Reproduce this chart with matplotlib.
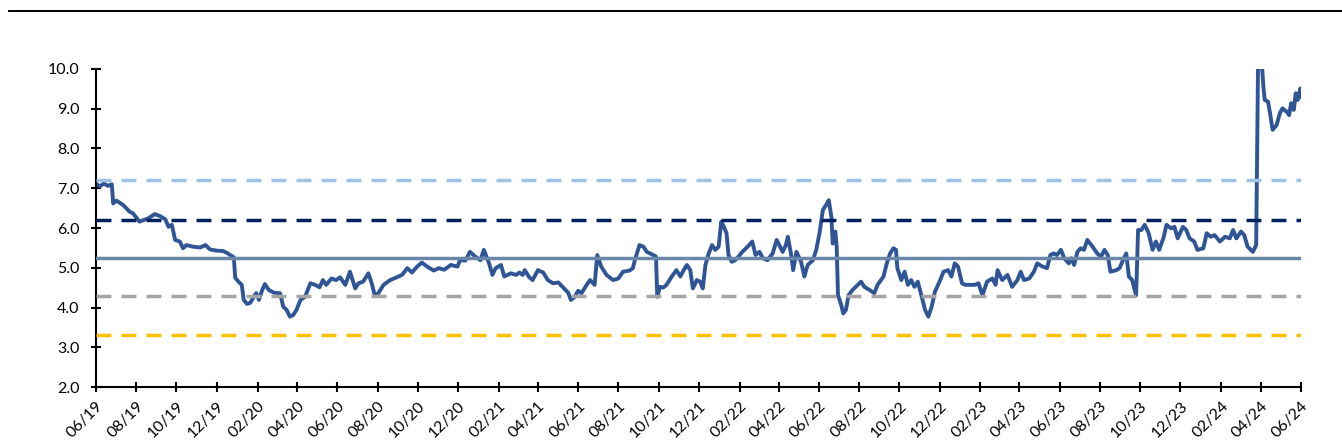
import pandas as pd
import matplotlib
matplotlib.use("Agg")
import matplotlib.pyplot as plt
import matplotlib.dates as mdates

plt.rcParams['font.family'] = ['Lato', 'DejaVu Sans']

# series (date, value)
dates = [
    "2019-06-02", "2019-06-07", "2019-06-13", "2019-06-19", "2019-06-25", "2019-06-27",
    "2019-07-02", "2019-07-12", "2019-07-22", "2019-07-27", "2019-08-06", "2019-08-12",
    "2019-08-19", "2019-08-29", "2019-09-06", "2019-09-14", "2019-09-19", "2019-09-24",
    "2019-09-29", "2019-10-06", "2019-10-11", "2019-10-16", "2019-10-26", "2019-11-06",
    "2019-11-14", "2019-11-21", "2019-12-01", "2019-12-11", "2019-12-18", "2019-12-27",
    "2019-12-29", "2020-01-03", "2020-01-08", "2020-01-11", "2020-01-16", "2020-01-21",
    "2020-01-27", "2020-01-30", "2020-02-03", "2020-02-08", "2020-02-12", "2020-02-18",
    "2020-02-26", "2020-03-06", "2020-03-11", "2020-03-16", "2020-03-21", "2020-03-26",
    "2020-03-31", "2020-04-06", "2020-04-13", "2020-04-21", "2020-04-28", "2020-05-05",
    "2020-05-10", "2020-05-15", "2020-05-23", "2020-05-30", "2020-06-05", "2020-06-13",
    "2020-06-20", "2020-06-28", "2020-07-03", "2020-07-10", "2020-07-18", "2020-07-23",
    "2020-07-28", "2020-08-02", "2020-08-10", "2020-08-20", "2020-08-30", "2020-09-07",
    "2020-09-15", "2020-09-22", "2020-09-30", "2020-10-07", "2020-10-15", "2020-10-25",
    "2020-11-02", "2020-11-10", "2020-11-20", "2020-11-30", "2020-12-04", "2020-12-12",
    "2020-12-19", "2020-12-27", "2021-01-04", "2021-01-09", "2021-01-17", "2021-01-22",
    "2021-01-27", "2021-02-04", "2021-02-09", "2021-02-19", "2021-02-27", "2021-03-04",
    "2021-03-09", "2021-03-12", "2021-03-19", "2021-03-24", "2021-04-01", "2021-04-09",
    "2021-04-16", "2021-04-24", "2021-05-02", "2021-05-09", "2021-05-17", "2021-05-21",
    "2021-05-27", "2021-06-01", "2021-06-06", "2021-06-14", "2021-06-19", "2021-06-26",
    "2021-06-30", "2021-07-06", "2021-07-14", "2021-07-24", "2021-08-01", "2021-08-08",
    "2021-08-18", "2021-08-23", "2021-08-26", "2021-09-02", "2021-09-08", "2021-09-13",
    "2021-09-18", "2021-09-23", "2021-09-27", "2021-09-29", "2021-10-03", "2021-10-08",
    "2021-10-13", "2021-10-21", "2021-10-28", "2021-11-03", "2021-11-08", "2021-11-13",
    "2021-11-18", "2021-11-22", "2021-11-28", "2021-12-03", "2021-12-07", "2021-12-11",
    "2021-12-16", "2021-12-21", "2021-12-26", "2021-12-31", "2022-01-04", "2022-01-08",
    "2022-01-12", "2022-01-15", "2022-01-20", "2022-01-25", "2022-01-30", "2022-02-05",
    "2022-02-13", "2022-02-20", "2022-02-25", "2022-03-03", "2022-03-08", "2022-03-15",
    "2022-03-23", "2022-03-29", "2022-04-02", "2022-04-07", "2022-04-12", "2022-04-15",
    "2022-04-20", "2022-04-23", "2022-04-28", "2022-05-05", "2022-05-10", "2022-05-15",
    "2022-05-23", "2022-05-28", "2022-06-02", "2022-06-07", "2022-06-12", "2022-06-16",
    "2022-06-20", "2022-06-22", "2022-06-26", "2022-06-28", "2022-06-30", "2022-07-05",
    "2022-07-08", "2022-07-12", "2022-07-16", "2022-07-22", "2022-07-30", "2022-08-04",
    "2022-08-09", "2022-08-17", "2022-08-24", "2022-08-29", "2022-09-07", "2022-09-12",
    "2022-09-17", "2022-09-22", "2022-09-26", "2022-09-28", "2022-10-04", "2022-10-09",
    "2022-10-14", "2022-10-19", "2022-10-24", "2022-10-29", "2022-11-04", "2022-11-09",
    "2022-11-14", "2022-11-19", "2022-11-24", "2022-12-02", "2022-12-07", "2022-12-14",
    "2022-12-19", "2022-12-24", "2022-12-29", "2023-01-04", "2023-01-09", "2023-01-16",
    "2023-01-24", "2023-01-29", "2023-02-04", "2023-02-11", "2023-02-19", "2023-02-24",
    "2023-02-27", "2023-03-06", "2023-03-14", "2023-03-21", "2023-03-29", "2023-04-03",
    "2023-04-08", "2023-04-16", "2023-04-23", "2023-04-28", "2023-05-06", "2023-05-13",
    "2023-05-18", "2023-05-23", "2023-05-28", "2023-06-03", "2023-06-08", "2023-06-15",
    "2023-06-19", "2023-06-23", "2023-06-28", "2023-07-03", "2023-07-08", "2023-07-13",
    "2023-07-21", "2023-07-28", "2023-08-03", "2023-08-08", "2023-08-13", "2023-08-17",
    "2023-08-26", "2023-08-31", "2023-09-05", "2023-09-10", "2023-09-14", "2023-09-19",
    "2023-09-25", "2023-09-28", "2023-10-03", "2023-10-08", "2023-10-14", "2023-10-20",
    "2023-10-25", "2023-10-30", "2023-11-06", "2023-11-10", "2023-11-17", "2023-11-22",
    "2023-11-27", "2023-12-05", "2023-12-10", "2023-12-15", "2023-12-22", "2023-12-27",
    "2024-01-05", "2024-01-10", "2024-01-16", "2024-01-22", "2024-01-30", "2024-02-07",
    "2024-02-14", "2024-02-19", "2024-02-24", "2024-03-02", "2024-03-07", "2024-03-12",
    "2024-03-20", "2024-03-25", "2024-03-28", "2024-04-02", "2024-04-05", "2024-04-07",
    "2024-04-12", "2024-04-15", "2024-04-19", "2024-04-25", "2024-04-30", "2024-05-04",
    "2024-05-10", "2024-05-14", "2024-05-17", "2024-05-21", "2024-05-24", "2024-05-27",
    "2024-05-31", "2024-06-01",
]
values = [
    7.10, 7.05, 7.12, 7.06, 7.10, 6.62,
    6.69, 6.58, 6.41, 6.37, 6.16, 6.20,
    6.24, 6.35, 6.30, 6.22, 6.03, 6.08,
    5.70, 5.66, 5.49, 5.57, 5.53, 5.51,
    5.57, 5.46, 5.43, 5.42, 5.36, 5.26,
    4.75, 4.65, 4.57, 4.19, 4.09, 4.12,
    4.29, 4.36, 4.19, 4.44, 4.59, 4.44,
    4.37, 4.36, 4.02, 3.94, 3.77, 3.81,
    3.94, 4.19, 4.27, 4.61, 4.57, 4.51,
    4.69, 4.57, 4.73, 4.69, 4.76, 4.57,
    4.90, 4.48, 4.61, 4.65, 4.86, 4.61,
    4.29, 4.36, 4.57, 4.69, 4.76, 4.82,
    4.99, 4.88, 5.03, 5.13, 5.03, 4.93,
    4.99, 4.95, 5.07, 5.03, 5.19, 5.18,
    5.40, 5.28, 5.19, 5.45, 5.11, 4.82,
    4.99, 5.07, 4.78, 4.86, 4.82, 4.88,
    4.82, 4.94, 4.76, 4.69, 4.94, 4.88,
    4.69, 4.61, 4.63, 4.51, 4.37, 4.19,
    4.27, 4.42, 4.36, 4.57, 4.69, 4.57,
    5.32, 5.03, 4.82, 4.69, 4.73, 4.90,
    4.93, 4.99, 5.19, 5.57, 5.53, 5.40,
    5.36, 5.32, 5.28, 4.27, 4.52, 4.50,
    4.57, 4.78, 4.94, 4.78, 4.94, 5.07,
    4.94, 4.48, 4.69, 4.65, 4.48, 5.07,
    5.36, 5.57, 5.45, 5.53, 6.16, 6.03,
    5.87, 5.32, 5.15, 5.19, 5.28, 5.40,
    5.53, 5.66, 5.32, 5.40, 5.24, 5.19,
    5.36, 5.70, 5.57, 5.40, 5.57, 5.78,
    5.32, 4.94, 5.40, 5.15, 4.78, 5.07,
    5.19, 5.45, 5.87, 6.45, 6.58, 6.70,
    6.28, 5.61, 5.91, 5.53, 4.31, 4.06,
    3.85, 3.94, 4.31, 4.44, 4.57, 4.65,
    4.52, 4.44, 4.36, 4.57, 4.78, 5.11,
    5.36, 5.49, 5.45, 4.99, 4.69, 4.90,
    4.57, 4.69, 4.52, 4.65, 4.27, 3.94,
    3.77, 4.02, 4.40, 4.69, 4.90, 4.94,
    4.78, 5.11, 5.03, 4.61, 4.57, 4.57,
    4.57, 4.61, 4.31, 4.65, 4.73, 4.57,
    4.94, 4.69, 4.82, 4.52, 4.69, 4.90,
    4.69, 4.73, 4.90, 5.11, 5.03, 4.99,
    5.32, 5.36, 5.32, 5.45, 5.24, 5.11,
    5.24, 5.07, 5.40, 5.49, 5.45, 5.70,
    5.53, 5.36, 5.28, 5.45, 5.32, 4.90,
    4.94, 4.99, 5.19, 5.36, 4.78, 4.69,
    4.31, 5.95, 5.95, 6.08, 5.87, 5.45,
    5.66, 5.45, 5.78, 6.08, 5.99, 6.03,
    5.74, 6.03, 5.95, 5.74, 5.66, 5.45,
    5.49, 5.87, 5.78, 5.82, 5.66, 5.78,
    5.74, 5.95, 5.74, 5.91, 5.82, 5.53,
    5.40, 5.57, 10.3, 10.3, 9.55, 9.22,
    9.18, 8.89, 8.47, 8.59, 8.89, 9.01,
    8.93, 8.84, 9.14, 8.97, 9.39, 9.22,
    9.51, 9.30,
]

# reference levels
level_values = [7.2, 6.2, 5.25, 4.3, 3.3]
level_colors = ["#9DC3E6", "#002060", "#6A87A8", "#A5A5A5", "#FFC000"]
level_styles = ["dash", "dash", "solid", "dash", "dash"]

df = pd.DataFrame({"date": pd.to_datetime(dates), "value": values})

fig = plt.figure(figsize=(13.42, 4.48), dpi=100)
ax = fig.add_axes([96 / 1342, 1 - 387 / 448, (1301 - 96) / 1342, (387 - 69) / 448])

ax.plot(df["date"], df["value"], color="#2F5597", lw=2.8, zorder=2, solid_joinstyle="round")

for v, c, s in zip(level_values, level_colors, level_styles):
    if s == "dash":
        ax.axhline(v, color=c, lw=2.5, dashes=(4.3, 2.9), zorder=3)
    else:
        ax.axhline(v, color=c, lw=2.5, zorder=3)

ax.set_xlim(pd.Timestamp("2019-06-01"), pd.Timestamp("2024-06-01"))
ax.set_ylim(2.0, 10.0)
ax.set_yticks([2, 3, 4, 5, 6, 7, 8, 9, 10])
ax.yaxis.set_major_formatter(plt.FuncFormatter(lambda v, p: f"{v:.1f}"))
ax.xaxis.set_major_locator(mdates.MonthLocator(bymonth=[2, 4, 6, 8, 10, 12], bymonthday=1))
ax.xaxis.set_major_formatter(mdates.DateFormatter("%m/%y"))

for side in ["top", "right"]:
    ax.spines[side].set_visible(False)
for side in ["left", "bottom"]:
    ax.spines[side].set_linewidth(1.5)
    ax.spines[side].set_color("black")

ax.tick_params(axis="both", direction="inout", length=7.5, width=1.5, colors="black", labelsize=11.5)
ax.tick_params(axis="y", pad=8)
ax.tick_params(axis="x", pad=5)
for lab in ax.get_xticklabels():
    lab.set_rotation(45)
    lab.set_ha("right")
    lab.set_rotation_mode("anchor")

# rule under the (cropped) title
fig.add_artist(plt.Line2D([9 / 1342, 1.0], [1 - 11 / 448, 1 - 11 / 448], color="black", lw=1.4))

fig.savefig("out.png", dpi=100)
